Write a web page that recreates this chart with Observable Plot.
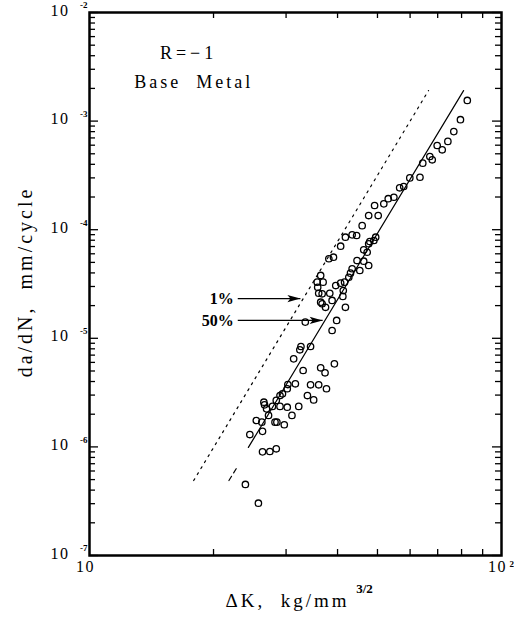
<!DOCTYPE html>
<html><head><meta charset="utf-8">
<script src="https://cdn.jsdelivr.net/npm/d3@7"></script>
<script src="https://cdn.jsdelivr.net/npm/@observablehq/plot@0.6"></script>
<style>body{margin:0;background:#fff} svg{display:block}</style>
</head><body><div id="chart"></div>
<script>
// ---- data ----
const deltaK = [82.6,79.5,76.6,74.1,69.8,71.8,67.0,67.9,64.4,63.4,59.9,57.9,56.6,54.8,53.1,51.8,49.2,50.2,47.6,45.9,44.5,43.4,41.8,40.7,39.1,38.1,36.4,49.5,49.0,47.9,46.3,47.2,44.6,46.3,47.6,43.4,45.3,42.6,47.6,43.0,35.7,36.9,35.8,36.7,36.0,40.7,39.6,41.6,41.3,38.3,38.8,36.4,36.7,37.4,41.2,41.8,39.8,38.8,33.4,34.4,32.6,32.4,31.3,39.3,36.4,37.3,33.0,31.6,30.3,30.2,34.4,36.0,37.6,29.4,29.0,33.8,35.0,28.4,26.5,26.6,27.8,26.9,29.0,30.2,31.0,32.2,27.2,25.4,26.2,28.2,28.5,29.7,26.3,24.5,26.3,27.4,28.4,23.9,25.7];
const dadN = [1.55e-3,1.03e-3,8.0e-4,6.5e-4,5.96e-4,5.44e-4,4.72e-4,4.40e-4,4.10e-4,3.04e-4,3.0e-4,2.5e-4,2.43e-4,1.99e-4,1.93e-4,1.73e-4,1.67e-4,1.35e-4,1.35e-4,1.09e-4,8.84e-5,8.97e-5,8.53e-5,7.05e-5,5.58e-5,5.4e-5,3.79e-5,8.53e-5,7.95e-5,7.79e-5,6.53e-5,6.2e-5,5.2e-5,5.13e-5,4.68e-5,4.37e-5,4.21e-5,3.65e-5,7.42e-5,3.98e-5,3.29e-5,3.29e-5,2.95e-5,2.57e-5,2.6e-5,3.22e-5,3.06e-5,3.29e-5,2.75e-5,2.6e-5,2.23e-5,2.15e-5,2.08e-5,1.93e-5,2.43e-5,1.93e-5,1.46e-5,1.18e-5,1.41e-5,8.4e-6,8.4e-6,7.84e-6,6.47e-6,5.82e-6,5.35e-6,4.81e-6,5.05e-6,3.81e-6,3.75e-6,3.43e-6,3.73e-6,3.73e-6,3.43e-6,3.08e-6,2.97e-6,2.97e-6,2.71e-6,2.68e-6,2.58e-6,2.44e-6,2.36e-6,2.24e-6,2.36e-6,2.32e-6,1.95e-6,2.36e-6,1.95e-6,1.75e-6,1.69e-6,1.69e-6,1.69e-6,1.6e-6,1.39e-6,1.3e-6,9.0e-7,9.07e-7,9.61e-7,4.51e-7,3.03e-7];

// 50% (median) line, solid, and its short dashed extension
const line50K = [24.3, 80.9];
const line50Y = [9.9e-7, 1.91e-3];
const ext50K = [21.8, 22.7];
const ext50Y = [4.9e-7, 6.3e-7];
// 1% line, dotted
const line1K = [17.9, 66.5];
const line1Y = [4.9e-7, 1.91e-3];

// arrows and their labels
const arrowLabels = ["1%", "50%"];
const arrowY = [2.32e-5, 1.46e-5];
const arrowFromK = [22.9, 22.9];
const arrowToK = [32.5, 36.8];

// notes inside the frame
const noteText = ["R=\u22121", "Base\u00a0 Metal"];
const noteK = [17.4, 17.9];
const noteY = [4.19e-3, 2.27e-3];

// axis titles
const yTitle = "da/dN,\u00a0 mm/cycle";
const yTitleAt = 3.3e-5;
const xTitle = "\u0394K,\u00a0 kg/mm";
const xTitleSup = "3/2";

// tick labels
const yTickValues = [1e-2, 1e-3, 1e-4, 1e-5, 1e-6, 1e-7];
const yTickExp = ["-2", "-3", "-4", "-5", "-6", "-7"];
const xTickValues = [10, 100];
const xTickExp = ["", "2"];

// minor ticks (2..9 within each decade)
const yMinor = [];
for (let e = -7; e < -2; e++) for (let m = 2; m <= 9; m++) yMinor.push(m * Math.pow(10, e));
const xMinor = [];
for (let m = 2; m <= 9; m++) xMinor.push(m * 10);

const W = 514, H = 619, ML = 89, MR = 13, MT = 12, MB = 64;
const FW = W - ML - MR, FH = H - MT - MB;
const serif = "'Liberation Serif', 'DejaVu Serif', serif";
const arrowHead = {draw(ctx) { ctx.moveTo(0, 0); ctx.lineTo(-13, -3.6); ctx.lineTo(-10, 0); ctx.lineTo(-13, 3.6); ctx.closePath(); }};
const tk = {stroke: "black", strokeWidth: 1.3};

const plot = Plot.plot({
  width: W, height: H,
  marginLeft: ML, marginRight: MR, marginTop: MT, marginBottom: MB,
  style: {fontFamily: serif, background: "white", color: "black"},
  x: {type: "log", domain: [10, 100], axis: null},
  y: {type: "log", domain: [1e-7, 1e-2]},
  marks: [
    // inward ticks on all four sides
    Plot.tickY(yMinor, {y: d => d, insetRight: FW - 6, ...tk}),
    Plot.tickY(yMinor, {y: d => d, insetLeft: FW - 6, ...tk}),
    Plot.tickY(yTickValues, {y: d => d, insetRight: FW - 9, ...tk}),
    Plot.tickY(yTickValues, {y: d => d, insetLeft: FW - 9, ...tk}),
    Plot.tickX(xMinor, {x: d => d, insetTop: FH - 6, ...tk}),
    Plot.tickX(xMinor, {x: d => d, insetBottom: FH - 6, ...tk}),
    // y tick labels: "10" plus a small exponent
    Plot.axisY({anchor: "left", ticks: yTickValues, tickSize: 0, tickPadding: 20, tickFormat: () => "10", fontSize: 16, dy: -2, label: null}),
    Plot.text(yTickValues, {y: d => d, text: (d, i) => yTickExp[i], frameAnchor: "left", dx: -2, dy: -7, textAnchor: "end", fontSize: 9, fontWeight: "bold"}),
    // x tick labels
    Plot.text(xTickValues, {x: d => d, text: () => "10", frameAnchor: "bottom", dy: 16, dx: -4, fontSize: 16}),
    Plot.text(xTickValues, {x: d => d, text: (d, i) => xTickExp[i], frameAnchor: "bottom", dy: 11, dx: 8, fontSize: 9, fontWeight: "bold", textAnchor: "start"}),
    // axis titles
    Plot.text([yTitle], {y: [yTitleAt], frameAnchor: "left", textAnchor: "middle", dx: -64, rotate: -90, fontSize: 20}),
    Plot.text([xTitle], {frameAnchor: "bottom", dx: -8, dy: 51, fontSize: 19}),
    Plot.text([xTitleSup], {frameAnchor: "bottom", dx: 69, dy: 37, fontSize: 13, fontWeight: "bold"}),
    // lines
    Plot.line(line1K, {x: line1K, y: line1Y, stroke: "black", strokeWidth: 1.2, strokeDasharray: "2,5"}),
    Plot.line(line50K, {x: line50K, y: line50Y, stroke: "black", strokeWidth: 1.2}),
    Plot.line(ext50K, {x: ext50K, y: ext50Y, stroke: "black", strokeWidth: 1.2, strokeDasharray: "5,4"}),
    // data
    Plot.dot(deltaK, {x: deltaK, y: dadN, r: 3.2, stroke: "black", strokeWidth: 1.3, fill: "none"}),
    // arrows
    Plot.link(arrowLabels, {x1: arrowFromK, x2: arrowToK, y1: arrowY, y2: arrowY, stroke: "black", strokeWidth: 1.3}),
    Plot.dot(arrowLabels, {x: arrowToK, y: arrowY, symbol: arrowHead, fill: "black", stroke: "none"}),
    Plot.text(arrowLabels, {x: arrowFromK, y: arrowY, text: d => d, textAnchor: "end", dx: -4, fontSize: 16, fontWeight: "bold"}),
    // notes
    Plot.text(noteText, {x: noteK, y: noteY, text: d => d, fontSize: 18}),
    Plot.frame({stroke: "black", strokeWidth: 2.5})
  ]
});

const spacing = {"10": 1.5, [yTitle]: 3, [xTitle]: 3, "R=\u22121": 4, "Base\u00a0 Metal": 3};
d3.select(plot).selectAll("text").each(function() {
  const s = spacing[this.textContent];
  if (s != null) this.setAttribute("letter-spacing", s);
});
document.getElementById("chart").appendChild(plot);
</script>
</body></html>
